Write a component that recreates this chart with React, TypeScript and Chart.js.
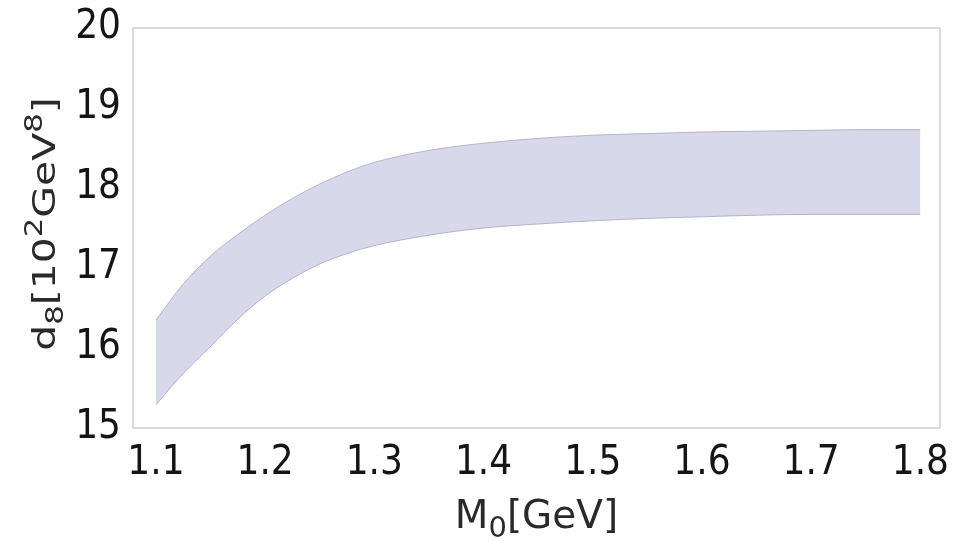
import React, { useEffect, useRef } from "react";
import { Chart, registerables } from "chart.js";

Chart.register(...registerables);

const massValues = [1.1, 1.125, 1.15, 1.175, 1.2, 1.225, 1.25, 1.275, 1.3, 1.35, 1.4, 1.45, 1.5, 1.55, 1.6, 1.65, 1.7, 1.75, 1.8];
const upperD8 = [16.35, 16.8, 17.15, 17.42, 17.66, 17.87, 18.05, 18.2, 18.32, 18.47, 18.56, 18.62, 18.66, 18.68, 18.7, 18.71, 18.72, 18.73, 18.73];
const lowerD8 = [15.29, 15.68, 16.02, 16.36, 16.65, 16.87, 17.05, 17.18, 17.28, 17.41, 17.5, 17.55, 17.59, 17.62, 17.64, 17.66, 17.67, 17.67, 17.67];
const xTickValues = [1.1, 1.2, 1.3, 1.4, 1.5, 1.6, 1.7, 1.8];
const yTickValues = [15, 16, 17, 18, 19, 20];
// axis titles: [text, mode] with mode n = normal, b = subscript, p = superscript
const xTitleParts: [string, string][] = [["M", "n"], ["0", "b"], ["[GeV]", "n"]];
const yTitleParts: [string, string][] = [["d", "n"], ["8", "b"], ["[10", "n"], ["2", "p"], ["GeV", "n"], ["8", "p"], ["]", "n"]];

const TICK_FONT = "'DejaVu Sans Condensed', 'DejaVu Sans', sans-serif";
const TITLE_FONT = "'DejaVu Sans', sans-serif";

function richWidth(ctx: CanvasRenderingContext2D, parts: [string, string][], size: number) {
  let w = 0;
  for (const [t, m] of parts) {
    ctx.font = `${m === "n" ? size : Math.round(size * 0.75)}px ${TITLE_FONT}`;
    w += ctx.measureText(t).width;
  }
  return w;
}

function drawRich(ctx: CanvasRenderingContext2D, parts: [string, string][], size: number, startX: number) {
  let x = startX;
  for (const [t, m] of parts) {
    const s = m === "n" ? size : Math.round(size * 0.75);
    ctx.font = `${s}px ${TITLE_FONT}`;
    const dy = m === "b" ? size * 0.24 : m === "p" ? -size * 0.42 : 0;
    ctx.fillText(t, x, dy);
    x += ctx.measureText(t).width;
  }
}

const framePlugin = {
  id: "frame",
  afterDatasetsDraw(chart: any) {
    const { ctx, chartArea } = chart;
    ctx.save();
    ctx.strokeStyle = "#d2d2d2";
    ctx.lineWidth = 1.5;
    ctx.strokeRect(chartArea.left, chartArea.top, chartArea.right - chartArea.left, chartArea.bottom - chartArea.top);
    ctx.restore();
  },
};

const titlesPlugin = {
  id: "richTitles",
  afterDraw(chart: any) {
    const { ctx, chartArea } = chart;
    ctx.save();
    ctx.fillStyle = "#2a2a2a";
    ctx.textBaseline = "alphabetic";
    ctx.textAlign = "left";
    // x title
    const xs = 39;
    const xw = richWidth(ctx, xTitleParts, xs);
    const cx = (chartArea.left + chartArea.right) / 2;
    ctx.save();
    ctx.translate(cx, 528);
    drawRich(ctx, xTitleParts, xs, -xw / 2);
    ctx.restore();
    // y title (rotated, stretched along text direction)
    const ys = 32;
    const yw = richWidth(ctx, yTitleParts, ys);
    const cy = (chartArea.top + chartArea.bottom) / 2 - 4;
    ctx.save();
    ctx.translate(55, cy);
    ctx.rotate(-Math.PI / 2);
    ctx.scale(1.28, 1);
    drawRich(ctx, yTitleParts, ys, -yw / 2);
    ctx.restore();
    ctx.restore();
  },
};

export default function App() {
  const ref = useRef<HTMLCanvasElement | null>(null);

  useEffect(() => {
    if (!ref.current) return;
    const lower = massValues.map((x, i) => ({ x, y: lowerD8[i] }));
    const upper = massValues.map((x, i) => ({ x, y: upperD8[i] }));
    const chart = new Chart(ref.current, {
      type: "line",
      data: {
        datasets: [
          {
            data: lower,
            borderColor: "rgba(175,160,195,0.8)",
            borderWidth: 1,
            pointRadius: 0,
            fill: false,
            cubicInterpolationMode: "monotone",
          },
          {
            data: upper,
            borderColor: "rgba(175,160,195,0.8)",
            borderWidth: 1,
            pointRadius: 0,
            fill: "-1",
            backgroundColor: "rgb(216,216,235)",
            cubicInterpolationMode: "monotone",
          },
        ],
      },
      options: {
        animation: false,
        responsive: false,
        maintainAspectRatio: false,
        layout: { padding: { top: 27, right: 16, left: 0, bottom: 0 } },
        plugins: { legend: { display: false }, tooltip: { enabled: false } },
        scales: {
          x: {
            type: "linear",
            min: 1.079,
            max: 1.818,
            grid: { display: false },
            border: { display: false },
            afterBuildTicks: (scale: any) => {
              scale.ticks = xTickValues.map((v) => ({ value: v }));
            },
            afterFit: (scale: any) => {
              scale.height = 113;
            },
            ticks: {
              color: "#151515",
              font: { family: TICK_FONT, size: 40 },
              padding: 4,
              maxRotation: 0,
              autoSkip: false,
              callback: (v: any) => Number(v).toFixed(1),
            },
            title: { display: false },
          },
          y: {
            type: "linear",
            min: 15,
            max: 20,
            grid: { display: false },
            border: { display: false },
            afterBuildTicks: (scale: any) => {
              scale.ticks = yTickValues.map((v) => ({ value: v }));
            },
            afterFit: (scale: any) => {
              scale.width = 133;
            },
            ticks: {
              color: "#151515",
              font: { family: TICK_FONT, size: 40 },
              padding: 4,
              autoSkip: false,
              callback: (v: any) => String(v),
            },
            title: { display: false },
          },
        },
      },
      plugins: [framePlugin, titlesPlugin],
    });
    return () => chart.destroy();
  }, []);

  return (
    <div style={{ position: "fixed", left: 0, top: 0, width: 956, height: 541, background: "#fff" }}>
      <canvas ref={ref} width={956} height={541} style={{ width: 956, height: 541, display: "block" }} />
    </div>
  );
}
